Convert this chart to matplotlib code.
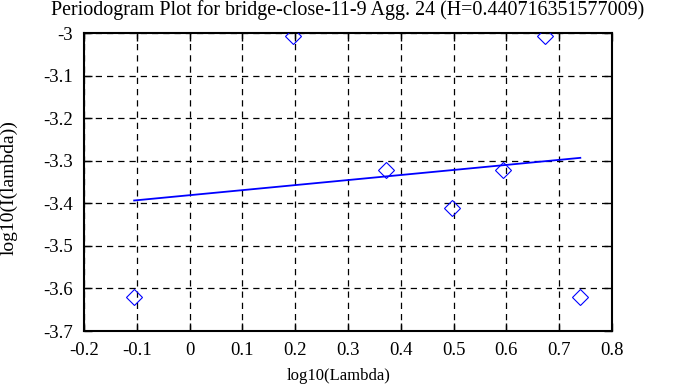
import numpy as np
import matplotlib.pyplot as plt

# periodogram points (log10 of frequency, log10 of power)
log_lambda = [-0.105, 0.196, 0.372, 0.497, 0.594, 0.673, 0.740]
log_power = [-3.620, -3.008, -3.322, -3.410, -3.322, -3.008, -3.620]

# least squares fit reported in title
fit_slope = 0.118567
fit_intercept = -3.381

x_ticks = [-0.2, -0.1, 0, 0.1, 0.2, 0.3, 0.4, 0.5, 0.6, 0.7, 0.8]
y_ticks = [-3, -3.1, -3.2, -3.3, -3.4, -3.5, -3.6, -3.7]

plt.rcParams["font.family"] = ["Liberation Serif", "DejaVu Serif"]
plt.rcParams["font.size"] = 12

fig = plt.figure(figsize=(6.95, 3.87), dpi=100)
ax = fig.add_axes([84 / 695, 1 - 331 / 387, 528 / 695, 298 / 387])

ax.plot(log_lambda, log_power, linestyle="none", marker="D", markersize=8,
        markerfacecolor="none", markeredgecolor="blue", markeredgewidth=0.8, zorder=3)

xs = np.array([log_lambda[0], log_lambda[-1]])
ax.plot(xs, fit_intercept + fit_slope * xs, color="blue", linewidth=1.3, zorder=2)

ax.set_xlim(-0.2, 0.8)
ax.set_ylim(-3.7, -3.0)
ax.set_xticks(x_ticks)
ax.set_yticks(y_ticks)
ax.set_xticklabels([f"{t:g}" for t in x_ticks])
ax.set_yticklabels([f"{t:g}" for t in y_ticks])
ax.tick_params(direction="in", length=6, width=1, top=True, right=True, labelsize=13.5)
ax.tick_params(axis="x", pad=8)
ax.tick_params(axis="y", pad=8)
ax.grid(True, color="black", linestyle=(0, (5, 4)), linewidth=0.9)
for s in ax.spines.values():
    s.set_linewidth(1.5)

ax.set_title("Periodogram Plot for bridge-close-11-9 Agg. 24 (H=0.440716351577009)", pad=13)
ax.set_xlabel("log10(Lambda)")
ax.set_ylabel("log10(I(lambda))", fontsize=14)
ax.xaxis.set_label_coords(0.483, -0.125)
ax.yaxis.set_label_coords(-0.125, 0.483)

fig.savefig("out.png", dpi=100)
